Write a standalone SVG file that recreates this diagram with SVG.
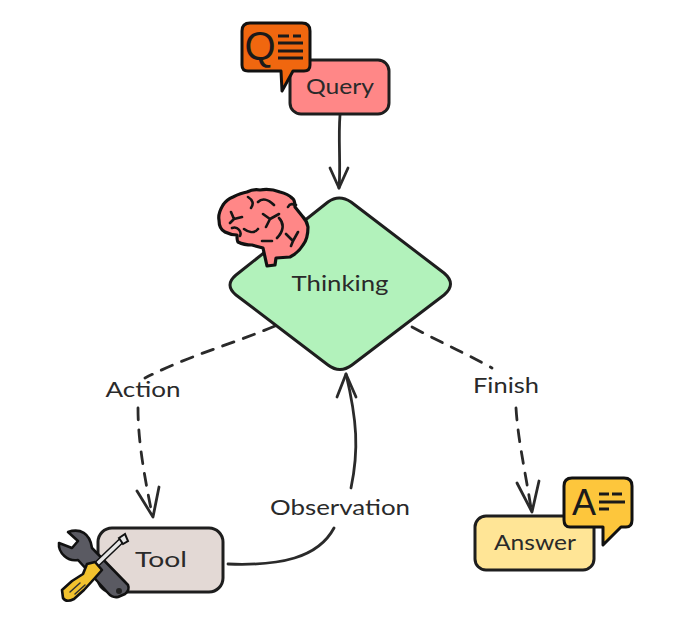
<svg xmlns="http://www.w3.org/2000/svg" width="682" height="619" viewBox="0 0 682 619">
<style>
.box{stroke:#1e1e1e;stroke-width:3;stroke-linejoin:round}
.lbl{font-family:"Lato","Noto Sans",sans-serif;font-size:21px;fill:#2a2a2a;text-anchor:middle}
.ico{stroke:#111;stroke-width:3;stroke-linejoin:round;stroke-linecap:round}
.c{fill:none;stroke:#2a2a2a;stroke-width:2.8;stroke-linecap:round;stroke-linejoin:round}
.d{stroke-dasharray:12 10}
.bl{fill:none;stroke:#151515;stroke-width:2.6;stroke-linecap:round;stroke-linejoin:round}
.ln{stroke:#1a1a1a;stroke-width:3;fill:none}
</style>
<rect width="682" height="619" fill="#fff"/>
<g id="connectors">
<path class="c" d="M340 115C338 140 341 165 339 188"/>
<path class="c" d="M330 168L339 188L348 168"/>
<path class="c d" d="M275 326C230 345 190 355 145 378"/>
<path class="c d" d="M138 408C138 435 142 465 152 514"/>
<path class="c" d="M137 491L153 517L159 487"/>
<path class="c d" d="M412 327C440 342 465 353 492 368"/>
<path class="c d" d="M516 408C518 440 525 470 531 508"/>
<path class="c" d="M517 483L532 512L539 481"/>
<path class="c" d="M228 564C280 566 318 558 334 528"/>
<path class="c" d="M351 488C359 450 357 420 346 374"/>
<path class="c" d="M337 397L346 374L356 397"/>
<text class="lbl" x="143" y="397" textLength="75" lengthAdjust="spacingAndGlyphs">Action</text>
<text class="lbl" x="506" y="393" textLength="66" lengthAdjust="spacingAndGlyphs">Finish</text>
<text class="lbl" x="340" y="515" textLength="140" lengthAdjust="spacingAndGlyphs">Observation</text>
</g>
<g id="query">
<rect class="box" x="290" y="60" width="99" height="54" rx="11" fill="#ff8787"/>
<text class="lbl" x="340" y="94" textLength="68" lengthAdjust="spacingAndGlyphs">Query</text>
</g>
<g id="query-icon">
<path class="ico" d="M250 23H302Q310 23 310 31V65Q310 71 304 71H293L282 91L281 71H248Q242 71 242 65V31Q242 23 250 23Z" fill="#f0670f"/>
<text x="260" y="60" font-family="Liberation Sans,sans-serif" font-size="40" fill="#1a1a1a" text-anchor="middle">Q</text>
<path class="ln" d="M278 36H289M293 36H301M278 43H303M278 51H303M278 58H303"/>
</g>
<g id="thinking">
<path class="box" d="M328 202Q339 194 351 202L444 273Q457 284 444 295L352 365Q340 374 328 365L236 295Q224 285 236 275Z" fill="#b2f2bb"/>
<text class="lbl" x="340" y="291" textLength="97" lengthAdjust="spacingAndGlyphs">Thinking</text>
</g>
<g id="brain">
<path d="M263 248L267 266L275 265L276 258L290 257C296 254 300 250 303 245C307 240 308 233 308 227C307 222 305 219 303 217L295 207C295 202 294 199 292 198C288 194 284 193 280 192C272 189 266 189 260 190C255 189 251 190 247 192C241 193 237 195 233 197C228 199 225 202 223 205C220 210 218 215 219 220C219 225 221 230 225 232C229 234 233 235 237 235C237 239 237 241 238 242C242 244 247 245 252 245Z" fill="#ff8787" stroke="#111" stroke-width="3.2" stroke-linejoin="round"/>
<path class="bl" d="M231 212L234 219L230 223M234 219L242 217M248 197C253 200 254 204 251 208M258 202C262 198 268 199 274 205M263 214L270 219L279 214M270 219L266 227M279 218C285 224 283 232 277 238M258 229C254 234 248 232 244 229M288 207C290 203 293 204 296 205M286 234L293 241L298 232M293 241L291 246M232 228C238 226 242 232 240 236M262 241L272 241"/>
</g>
<g id="tool">
<rect class="box" x="98" y="528" width="125" height="64" rx="14" fill="#e3d9d5"/>
<text class="lbl" x="161" y="567" textLength="52" lengthAdjust="spacingAndGlyphs">Tool</text>
</g>
<g id="tool-icon">
<path d="M68 532C80 528 90 533 92 548L128 585Q130 590 125 594L118 597Q112 598 108 593L78 560C68 562 58 553 59 543L72 548L78 541Z" fill="#5a5a62" stroke="#111" stroke-width="2.6" stroke-linejoin="round"/>
<circle cx="119" cy="591" r="3" fill="#222"/>
<path d="M98 563L122 540" stroke="#111" stroke-width="6.5" stroke-linecap="round"/>
<path d="M98 563L122 540" stroke="#e6e6e6" stroke-width="3.5" stroke-linecap="round"/>
<path d="M119 538L125 534L128 541L123 544Z" fill="#e6e6e6" stroke="#111" stroke-width="2"/>
<path d="M62 590L72 581L83 574L87 564L95 562L102 570L94 579L84 590L74 599Q66 603 63 598Z" fill="#f2c22e" stroke="#111" stroke-width="2.6" stroke-linejoin="round"/>
<path d="M70 592L80 583M75 594L85 585" stroke="#333" stroke-width="1.5" stroke-linecap="round"/>
</g>
<g id="answer">
<rect class="box" x="475" y="516" width="119" height="54" rx="11" fill="#ffe596"/>
<text class="lbl" x="535" y="550" textLength="82" lengthAdjust="spacingAndGlyphs">Answer</text>
</g>
<g id="answer-icon">
<path class="ico" d="M572 478H624Q632 478 632 486V520Q632 527 626 527H621L603 545L603 527H570Q564 527 564 520V486Q564 478 572 478Z" fill="#fdc63c"/>
<text x="584" y="515" font-family="Liberation Sans,sans-serif" font-size="36" fill="#1a1a1a" text-anchor="middle">A</text>
<path class="ln" d="M599 494H609M612 494H622M599 502H625M599 509H609"/>
</g>
</svg>
